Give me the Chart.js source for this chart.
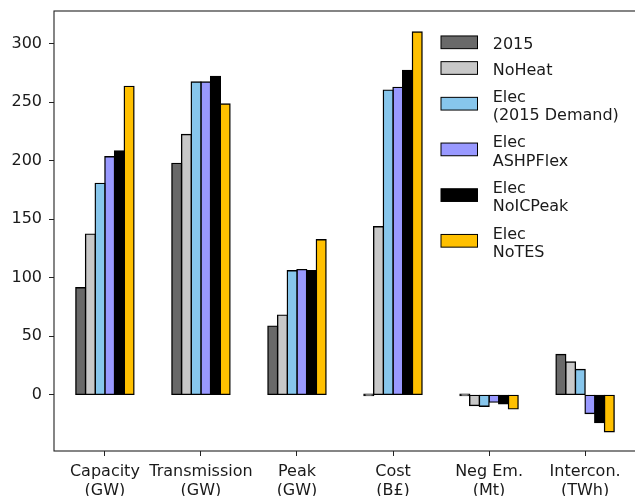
<!DOCTYPE html>
<html>
<head>
<meta charset="utf-8">
<script src="https://cdn.jsdelivr.net/npm/chart.js@4/dist/chart.umd.min.js"></script>
<style>
  html, body { margin: 0; padding: 0; background: #fff; overflow: hidden; }
  #wrap { width: 645px; height: 496px; }
</style>
</head>
<body>
<div id="wrap"><canvas id="barChart" width="645" height="496"></canvas></div>
<script>
// Categories (two-line tick labels)
const categories = [
    ['Capacity', '(GW)'],
    ['Transmission', '(GW)'],
    ['Peak', '(GW)'],
    ['Cost', '(B£)'],
    ['Neg Em.', '(Mt)'],
    ['Intercon.', '(TWh)']
];

// Series values
const v2015     = [91.5, 197.8, 58.7, 0, 0, 34.5];
const vNoHeat   = [137.3, 222.5, 68.1, 143.6, -9.1, 28.0];
const vElecDem  = [180.7, 267.3, 106.0, 260.4, -9.7, 21.7];
const vAshpFlex = [203.4, 267.3, 107.0, 262.7, -6.2, -15.9];
const vNoICPeak = [208.3, 272.1, 106.0, 277.3, -7.7, -23.6];
const vNoTES    = [263.6, 248.5, 132.5, 310.0, -12.0, -31.6];

const seriesLabels = ['2015', 'NoHeat', 'Elec\n(2015 Demand)', 'Elec\nASHPFlex', 'Elec\nNoICPeak', 'Elec\nNoTES'];
const seriesColors = ['#696969', '#c8c8c8', '#87c6ec', '#9999ff', '#000000', '#ffc000'];
const seriesValues = [v2015, vNoHeat, vElecDem, vAshpFlex, vNoICPeak, vNoTES];

// Y axis tick labels
const yTicks = [0, 50, 100, 150, 200, 250, 300];

const FONT = 'DejaVu Sans';
const TEXT_COLOR = '#1a1a1a';

// Frame around the plot area (matplotlib style spines)
const framePlugin = {
    id: 'frame',
    afterDatasetsDraw(chart) {
        const { ctx, chartArea: a } = chart;
        ctx.save();
        ctx.strokeStyle = '#222';
        ctx.lineWidth = 1.1;
        ctx.strokeRect(a.left, a.top, a.right - a.left, a.bottom - a.top);
        ctx.restore();
    }
};

// Legend with multi-line labels, drawn on the canvas
const legendPlugin = {
    id: 'multiLegend',
    afterDraw(chart) {
        const ctx = chart.ctx;
        const boxX = 441, boxW = 36.5, boxH = 12.7, textX = 492.7;
        const baseH = 17.7, lineStep = 20, gap = 8, textLine = 18.3;
        let y = 42.3 - baseH / 2; // top of the first entry
        ctx.save();
        ctx.font = '16px "' + FONT + '"';
        ctx.textAlign = 'left';
        ctx.textBaseline = 'alphabetic';
        chart.data.datasets.forEach((ds, i) => {
            const lines = seriesLabels[i].split('\n');
            const h = baseH + (lines.length - 1) * lineStep;
            const cy = y + h / 2;
            ctx.fillStyle = ds.backgroundColor;
            ctx.fillRect(boxX, cy - boxH / 2, boxW, boxH);
            ctx.strokeStyle = '#000';
            ctx.lineWidth = 1;
            ctx.strokeRect(boxX, cy - boxH / 2, boxW, boxH);
            ctx.fillStyle = TEXT_COLOR;
            const first = cy + 7 - (lines.length - 1) * textLine / 2;
            lines.forEach((t, k) => ctx.fillText(t, textX, first + k * textLine));
            y += h + gap;
        });
        ctx.restore();
    }
};

function drawChart() {
    Chart.defaults.font.family = FONT;
    Chart.defaults.font.size = 16;
    Chart.defaults.color = TEXT_COLOR;

    const ctx = document.getElementById('barChart').getContext('2d');

    new Chart(ctx, {
        type: 'bar',
        data: {
            labels: categories,
            datasets: seriesValues.map((vals, i) => ({
                label: seriesLabels[i].replace('\n', ' '),
                data: vals,
                backgroundColor: seriesColors[i],
                borderColor: '#000',
                borderWidth: 1.4,
                borderSkipped: false,
                inflateAmount: 0.7, // centre the edge on the bar boundary
                minBarLength: 1.5,
                categoryPercentage: 0.605,
                barPercentage: 1.0
            }))
        },
        options: {
            responsive: false,
            animation: false,
            devicePixelRatio: 1,
            layout: { padding: { top: 11, right: 9, left: 0, bottom: 0 } },
            scales: {
                x: {
                    offset: true,
                    border: { display: false },
                    grid: { offset: false, drawOnChartArea: false, drawTicks: true, tickLength: 5, tickColor: '#222' },
                    ticks: { padding: 7, maxRotation: 0, autoSkip: false, font: { size: 16, lineHeight: 1.14 } },
                    // matplotlib-like margins: -0.53 .. 5.53
                    afterBuildTicks: s => { s._startValue = -0.53; s._valueRange = categories.length - 1 + 1.06; },
                    afterFit: s => { s.height = 45; s.paddingLeft = 0; s.paddingRight = 0; }
                },
                y: {
                    min: -48,
                    max: 328,
                    border: { display: false },
                    grid: { drawOnChartArea: false, drawTicks: true, tickLength: 5, tickColor: '#222' },
                    ticks: { padding: 7, font: { size: 16 } },
                    afterBuildTicks: s => { s.ticks = yTicks.map(v => ({ value: v })); },
                    afterFit: s => { s.width = 54; s.paddingTop = 0; s.paddingBottom = 0; }
                }
            },
            plugins: {
                legend: { display: false },
                tooltip: { enabled: false }
            }
        },
        plugins: [framePlugin, legendPlugin]
    });
}

document.addEventListener('DOMContentLoaded', drawChart);
</script>
</body>
</html>
